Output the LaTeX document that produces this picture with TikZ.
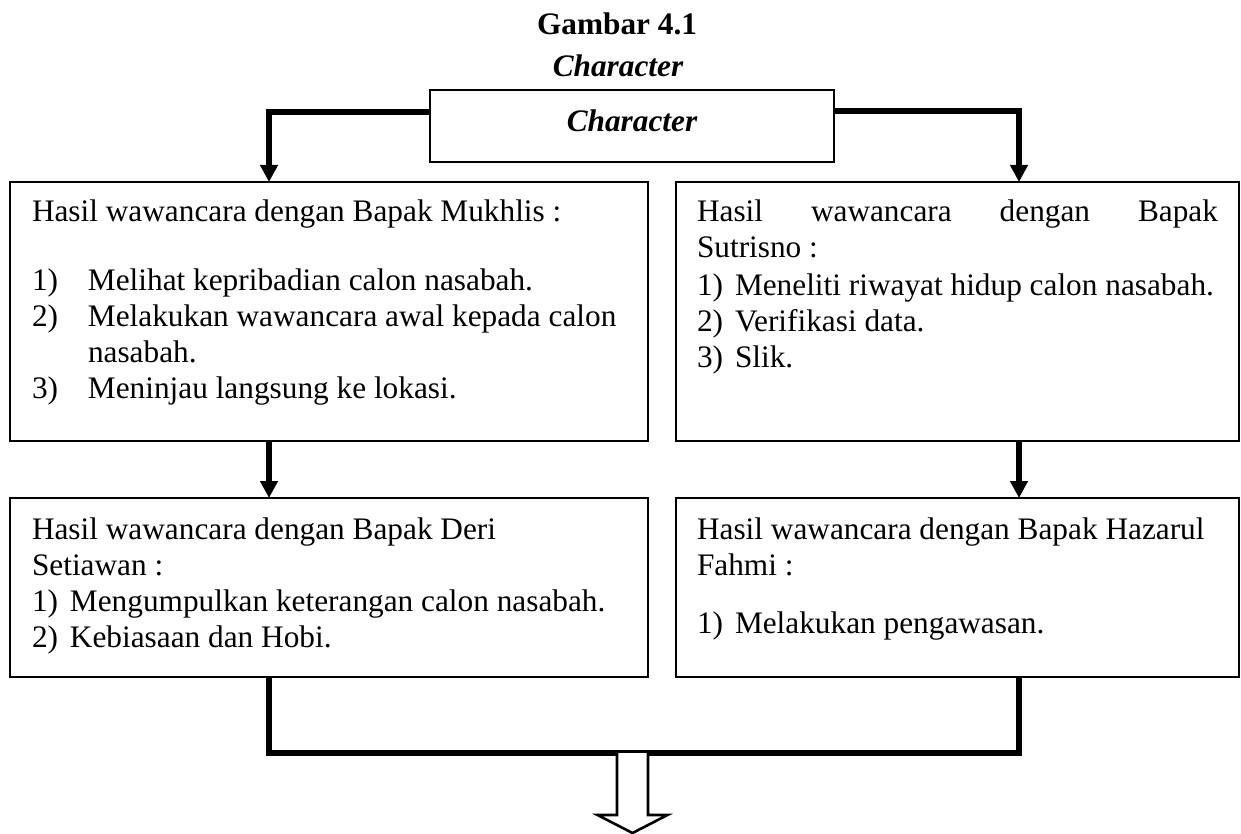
\documentclass[tikz,border=0pt]{standalone}
\usepackage{fontspec}
\setmainfont{Liberation Serif}
\usetikzlibrary{arrows.meta}

\begin{document}
\begin{tikzpicture}[x=1pt,y=-1pt,
  every node/.style={inner sep=0pt, outer sep=0pt, font=\fontsize{31.3}{37}\selectfont},
  box/.style={draw=black, line width=1.8pt, anchor=north west},
  txt/.style={anchor=base west},
  ttl/.style={anchor=base, font=\fontsize{31.3}{37}\selectfont\bfseries},
  conn/.style={line width=5.5pt, -{Triangle[width=17pt,length=17pt]}},
  bus/.style={line width=5.5pt},
  hollow/.style={line width=2.6pt, fill=white, line join=miter}]

\useasboundingbox (0,0) rectangle (1241,834);

% title
\node[ttl] (t1) at (617,35) {Gambar 4.1};
\node[ttl] (t2) at (618,77) {\itshape Character};

% boxes
\node[box, minimum width=404pt, minimum height=72pt] (char) at (430,90) {};
\node[ttl] (chartxt) at (632,132) {\itshape Character};

\node[box, minimum width=638pt, minimum height=259pt] (mukhlis) at (10,182) {};
\node[box, minimum width=563pt, minimum height=259pt] (sutrisno) at (676,182) {};
\node[box, minimum width=638pt, minimum height=179pt] (deri) at (10,498) {};
\node[box, minimum width=563pt, minimum height=179pt] (hazarul) at (676,498) {};

% text of the first left box
\node[txt] (m0) at (32,222) {Hasil wawancara dengan Bapak Mukhlis :};
\node[txt] (m1) at (32,290) {\makebox[56pt][l]{1)}Melihat kepribadian calon nasabah.};
\node[txt] (m2) at (32,326) {\makebox[56pt][l]{2)}Melakukan wawancara awal kepada calon};
\node[txt] (m3) at (88,362) {nasabah.};
\node[txt] (m4) at (32,398) {\makebox[56pt][l]{3)}Meninjau langsung ke lokasi.};

% text of the first right box
\node[txt] (s0) at (697,222) {\makebox[521pt][s]{Hasil wawancara dengan Bapak}};
\node[txt] (s1) at (697,258) {Sutrisno :};
\node[txt] (s2) at (697,295) {\makebox[38pt][l]{1)}Meneliti riwayat hidup calon nasabah.};
\node[txt] (s3) at (697,331) {\makebox[38pt][l]{2)}Verifikasi data.};
\node[txt] (s4) at (697,367) {\makebox[38pt][l]{3)}Slik.};

% text of the second left box
\node[txt] (d0) at (32,539) {Hasil wawancara dengan Bapak Deri};
\node[txt] (d1) at (32,575) {Setiawan :};
\node[txt] (d2) at (32,611) {\makebox[38pt][l]{1)}Mengumpulkan keterangan calon nasabah.};
\node[txt] (d3) at (32,647) {\makebox[38pt][l]{2)}Kebiasaan dan Hobi.};

% text of the second right box
\node[txt] (h0) at (697,539) {Hasil wawancara dengan Bapak Hazarul};
\node[txt] (h1) at (697,575) {Fahmi :};
\node[txt] (h2) at (697,633) {\makebox[38pt][l]{1)}Melakukan pengawasan.};

% connectors
\draw[conn] ([yshift=14pt]char.west) -| ([xshift=-60pt]mukhlis.north);
\draw[conn] ([yshift=15pt]char.east) -| ([xshift=61.5pt]sutrisno.north);
\draw[conn] ([xshift=-60pt]mukhlis.south) -- ([xshift=-60pt]deri.north);
\draw[conn] ([xshift=61.5pt]sutrisno.south) -- ([xshift=61.5pt]hazarul.north);

\coordinate (join) at (632.5,753);
\draw[bus] ([xshift=-60pt]deri.south) |- (join) -| ([xshift=61.5pt]hazarul.south);

% hollow outcome arrow
\draw[hollow] ([xshift=-15.5pt]join) -- ++(0,62) -- ++(-19.5,0) -- ++(35,18)
  -- ++(35,-18) -- ++(-19.5,0) -- ++(0,-62);
\end{tikzpicture}
\end{document}
